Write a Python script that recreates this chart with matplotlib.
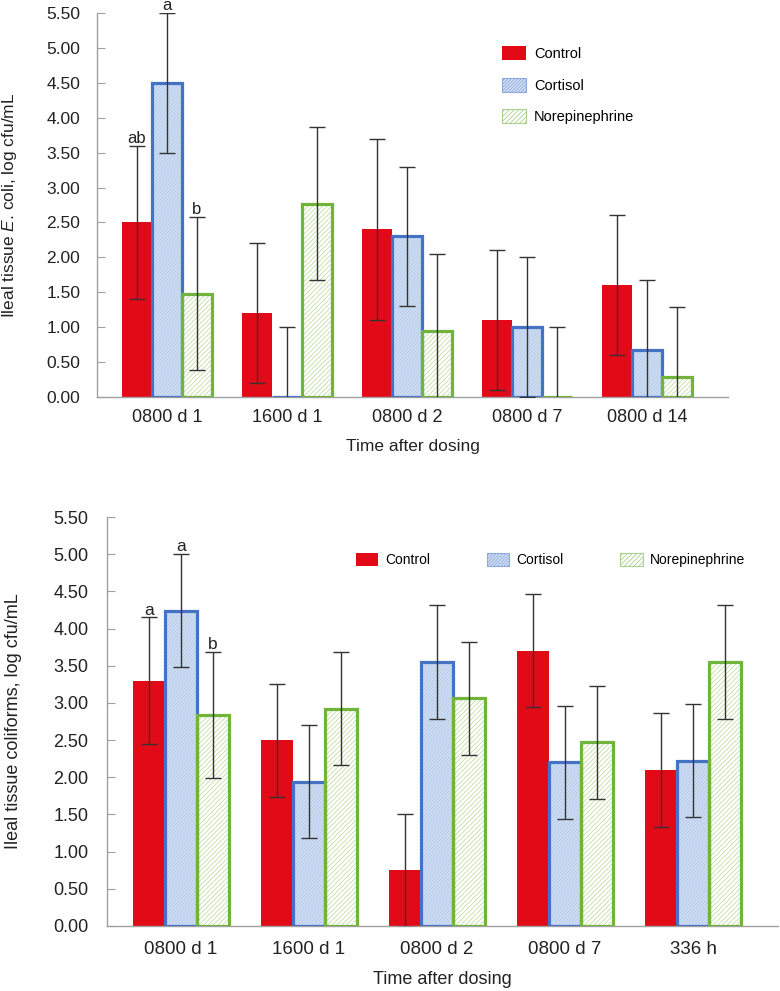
import matplotlib
matplotlib.use("Agg")
import matplotlib.pyplot as plt
import numpy as np
from matplotlib.patches import Patch

plt.rcParams['font.family'] = 'Liberation Sans'
plt.rcParams['mathtext.fontset'] = 'custom'
plt.rcParams['mathtext.rm'] = 'Liberation Sans'
plt.rcParams['mathtext.it'] = 'Liberation Sans:italic'
plt.rcParams['hatch.linewidth'] = 0.6

# top panel: E. coli
times_top = ['0800 d 1', '1600 d 1', '0800 d 2', '0800 d 7', '0800 d 14']
ecoli_control = [2.50, 1.20, 2.40, 1.10, 1.60]
ecoli_control_err = [1.10, 1.00, 1.30, 1.00, 1.00]
ecoli_cortisol = [4.50, 0.00, 2.30, 1.00, 0.67]
ecoli_cortisol_err = [1.00, 1.00, 1.00, 1.00, 1.00]
ecoli_ne = [1.48, 2.77, 0.95, 0.00, 0.29]
ecoli_ne_err = [1.10, 1.10, 1.10, 1.00, 1.00]
ecoli_letters = ['ab', 'a', 'b']  # 0800 d 1 only

# bottom panel: coliforms
times_bot = ['0800 d 1', '1600 d 1', '0800 d 2', '0800 d 7', '336 h']
coli_control = [3.30, 2.50, 0.75, 3.70, 2.10]
coli_control_err = [0.85, 0.76, 0.76, 0.76, 0.77]
coli_cortisol = [4.24, 1.94, 3.55, 2.20, 2.22]
coli_cortisol_err = [0.76, 0.76, 0.76, 0.76, 0.76]
coli_ne = [2.84, 2.92, 3.06, 2.47, 3.55]
coli_ne_err = [0.85, 0.76, 0.76, 0.76, 0.76]
coli_letters = ['a', 'a', 'b']

red = '#E20A17'
blue_edge = '#4472C4'
blue_fill = '#D3E0F3'
blue_hatch = '#AFC6E9'
green_edge = '#70B53A'
green_hatch = '#C2DFA5'
err_col = '#333333'
spine_col = '#A0A0A0'

fig = plt.figure(figsize=(7.8, 9.91), dpi=100)


def panel(ax, times, series, letters, ylabel, fs_tick, fs_lab, lab_x, tickpad):
    x = np.arange(len(times))
    w = 0.25
    (c, ce), (co, coe), (n, ne) = series
    ax.bar(x - w, c, w, color=red, linewidth=0, zorder=2)
    ax.bar(x, co, w, color=blue_fill, hatch='//////////', edgecolor=blue_hatch, linewidth=0, zorder=2)
    ax.bar(x, co, w, fill=False, edgecolor=blue_edge, linewidth=2.3, zorder=3)
    ax.bar(x + w, n, w, color='white', hatch='///////', edgecolor=green_hatch, linewidth=0, zorder=2)
    ax.bar(x + w, n, w, fill=False, edgecolor=green_edge, linewidth=2.3, zorder=3)
    for off, v, e in [(-w, c, ce), (0, co, coe), (w, n, ne)]:
        ax.errorbar(x + off, v, yerr=e, fmt='none', ecolor=err_col, elinewidth=1.0,
                    capsize=6, capthick=1.0, zorder=4)
    # significance letters on first time point
    for off, v, e, t in zip([-w, 0, w], [c[0], co[0], n[0]], [ce[0], coe[0], ne[0]], letters):
        ax.annotate(t, (off, v + e), xytext=(0, 2), textcoords='offset points',
                    ha='center', va='baseline', fontsize=fs_tick - 0.5, color='#222222',
                    annotation_clip=False)
    ax.set_ylim(0, 5.5)
    ax.set_yticks(np.arange(0, 5.51, 0.5))
    ax.set_yticklabels([f'{t:.2f}' for t in np.arange(0, 5.51, 0.5)])
    ax.set_xticks(x)
    ax.set_xticklabels(times)
    for s in ['top', 'right']:
        ax.spines[s].set_visible(False)
    for s in ['left', 'bottom']:
        ax.spines[s].set_color(spine_col)
        ax.spines[s].set_linewidth(1.0)
    ax.tick_params(axis='y', direction='in', length=6, color=spine_col,
                   labelsize=fs_tick, pad=tickpad, labelcolor='#222222')
    ax.tick_params(axis='x', length=0, labelsize=fs_tick + 0.5, pad=tickpad - 3,
                   labelcolor='#222222')
    ax.set_ylabel(ylabel, fontsize=fs_lab, color='#222222')
    ax.yaxis.label.set_verticalalignment('center')
    ax.yaxis.set_label_coords(lab_x, 0.5)
    ax.set_xlabel('Time after dosing', fontsize=fs_lab, color='#222222')
    ax.xaxis.label.set_verticalalignment('center')


# top axes
ax1 = fig.add_axes([97 / 780, 1 - 397 / 991, 631 / 780, 384 / 991])
panel(ax1, times_top,
      [(ecoli_control, ecoli_control_err), (ecoli_cortisol, ecoli_cortisol_err),
       (ecoli_ne, ecoli_ne_err)],
      ecoli_letters, r'Ileal tissue $\mathit{E}$. coli, log cfu/mL', 12.5, 12.5, -0.138, 12)
ax1.set_xlim(-0.583, 4.675)
ax1.xaxis.set_label_coords(0.5, -49 / 384)

# bottom axes
ax2 = fig.add_axes([107 / 780, 1 - 926 / 991, 671 / 780, 409 / 991])
panel(ax2, times_bot,
      [(coli_control, coli_control_err), (coli_cortisol, coli_cortisol_err),
       (coli_ne, coli_ne_err)],
      coli_letters, 'Ileal tissue coliforms, log cfu/mL', 13, 13, -0.14, 13.5)
ax2.set_xlim(-0.578, 4.664)
ax2.xaxis.set_label_coords(0.5, -54 / 409)

handles = [
    Patch(facecolor=red, edgecolor='none', label='Control'),
    Patch(facecolor=blue_fill, edgecolor='#8EAADC', hatch='//////////', linewidth=0.8, label='Cortisol'),
    Patch(facecolor='white', edgecolor='#A9D18E', hatch='///////', linewidth=0.8, label='Norepinephrine'),
]

ax1.legend(handles=handles, loc='upper left', bbox_to_anchor=(502 / 780, 1 - 46 / 991),
           bbox_transform=fig.transFigure, frameon=False, fontsize=10.5, borderpad=0,
           handlelength=1.65, handleheight=1.1, handletextpad=0.55, labelspacing=1.15,
           borderaxespad=0)

ax2.legend(handles=handles, loc='upper left', bbox_to_anchor=(356 / 780, 1 - 553 / 991),
           bbox_transform=fig.transFigure, frameon=False, fontsize=10, borderpad=0,
           ncol=3, handlelength=1.6, handleheight=1.1, handletextpad=0.5,
           columnspacing=4.1, borderaxespad=0)

fig.savefig('out.png', dpi=100)
